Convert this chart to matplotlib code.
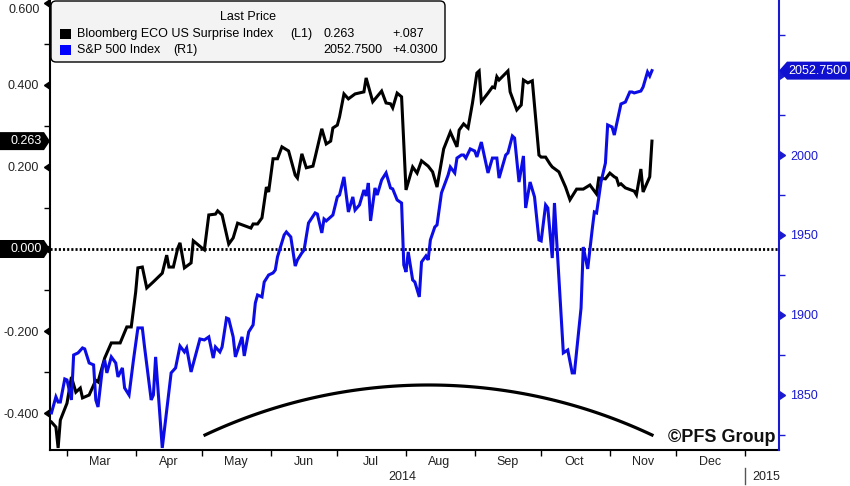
import numpy as np
import pandas as pd
import matplotlib
matplotlib.use('Agg')
import matplotlib.pyplot as plt
import matplotlib.dates as mdates
from matplotlib.patches import Polygon, FancyBboxPatch, Rectangle
from matplotlib.lines import Line2D
from matplotlib.transforms import IdentityTransform

plt.rcParams['font.family'] = ['Liberation Sans', 'DejaVu Sans']

# Bloomberg ECO US Surprise Index (left axis)
eco_dates = ['2014-02-22','2014-02-24','2014-02-25','2014-02-26','2014-03-01','2014-03-03','2014-03-05','2014-03-07','2014-03-08','2014-03-11',
             '2014-03-14','2014-03-15','2014-03-18','2014-03-21','2014-03-25','2014-03-28','2014-03-30','2014-04-01','2014-04-02','2014-04-04',
             '2014-04-06','2014-04-09','2014-04-13','2014-04-15','2014-04-16','2014-04-18','2014-04-20','2014-04-21','2014-04-23','2014-04-26',
             '2014-04-27','2014-05-01','2014-05-02','2014-05-04','2014-05-07','2014-05-08','2014-05-10','2014-05-13','2014-05-15','2014-05-17',
             '2014-05-23','2014-05-24','2014-05-26','2014-05-28','2014-05-30','2014-05-31','2014-06-02','2014-06-04','2014-06-06','2014-06-09',
             '2014-06-12','2014-06-13','2014-06-15','2014-06-17','2014-06-20','2014-06-21','2014-06-24','2014-06-26','2014-06-28','2014-06-29',
             '2014-07-01','2014-07-02','2014-07-04','2014-07-06','2014-07-09','2014-07-13','2014-07-14','2014-07-17','2014-07-21','2014-07-23',
             '2014-07-25','2014-07-26','2014-07-28','2014-07-30','2014-08-01','2014-08-04','2014-08-06','2014-08-08','2014-08-11','2014-08-13',
             '2014-08-15','2014-08-18','2014-08-21','2014-08-24','2014-08-25','2014-08-27','2014-08-29','2014-08-31','2014-09-02','2014-09-03',
             '2014-09-04','2014-09-07','2014-09-09','2014-09-10','2014-09-11','2014-09-12','2014-09-16','2014-09-17','2014-09-20','2014-09-22',
             '2014-09-23','2014-09-25','2014-09-27','2014-09-30','2014-10-01','2014-10-03','2014-10-05','2014-10-06','2014-10-09','2014-10-12',
             '2014-10-14','2014-10-17','2014-10-20','2014-10-23','2014-10-26','2014-10-27','2014-10-30','2014-11-01','2014-11-03','2014-11-04',
             '2014-11-05','2014-11-06','2014-11-08','2014-11-12','2014-11-13','2014-11-15','2014-11-16','2014-11-19','2014-11-20']
eco_vals = [-0.422,-0.434,-0.485,-0.417,-0.376,-0.312,-0.349,-0.339,-0.363,-0.356,
            -0.320,-0.324,-0.266,-0.229,-0.229,-0.190,-0.190,-0.105,-0.046,-0.044,
            -0.095,-0.080,-0.059,-0.015,-0.044,-0.044,0.002,0.015,-0.046,-0.034,
            0.020,0.002,-0.002,0.083,0.085,0.093,0.083,0.012,0.027,0.063,
            0.051,0.061,0.061,0.076,0.151,0.139,0.220,0.220,0.249,0.239,
            0.180,0.173,0.232,0.198,0.202,0.224,0.293,0.256,0.263,0.295,
            0.302,0.322,0.378,0.366,0.378,0.383,0.417,0.359,0.385,0.356,
            0.354,0.344,0.380,0.371,0.144,0.200,0.185,0.215,0.202,0.188,
            0.151,0.244,0.285,0.249,0.290,0.305,0.295,0.356,0.429,0.434,
            0.359,0.380,0.395,0.393,0.420,0.412,0.434,0.383,0.339,0.351,
            0.412,0.405,0.410,0.229,0.224,0.224,0.207,0.200,0.188,0.151,
            0.120,0.146,0.146,0.156,0.134,0.173,0.171,0.185,0.176,0.173,
            0.156,0.159,0.149,0.141,0.132,0.195,0.139,0.176,0.263]

# S&P 500 Index (right axis)
spx_dates = ['2014-02-22','2014-02-24','2014-02-25','2014-02-26','2014-02-28','2014-03-01','2014-03-03','2014-03-04','2014-03-06','2014-03-08',
             '2014-03-09','2014-03-11','2014-03-13','2014-03-14','2014-03-15','2014-03-17','2014-03-18','2014-03-19','2014-03-21','2014-03-23',
             '2014-03-24','2014-03-26','2014-03-27','2014-03-29','2014-03-31','2014-04-02','2014-04-04','2014-04-05','2014-04-08','2014-04-09',
             '2014-04-10','2014-04-13','2014-04-17','2014-04-19','2014-04-21','2014-04-23','2014-04-24','2014-04-26','2014-04-30','2014-05-02',
             '2014-05-04','2014-05-06','2014-05-07','2014-05-09','2014-05-10','2014-05-12','2014-05-13','2014-05-15','2014-05-16','2014-05-19',
             '2014-05-20','2014-05-22','2014-05-24','2014-05-25','2014-05-26','2014-05-28','2014-05-29','2014-05-31','2014-06-02','2014-06-03',
             '2014-06-04','2014-06-07','2014-06-08','2014-06-10','2014-06-12','2014-06-13','2014-06-15','2014-06-16','2014-06-18','2014-06-21',
             '2014-06-22','2014-06-24','2014-06-25','2014-06-26','2014-06-28','2014-06-29','2014-07-01','2014-07-02','2014-07-04','2014-07-06',
             '2014-07-08','2014-07-09','2014-07-11','2014-07-13','2014-07-14','2014-07-15','2014-07-16','2014-07-18','2014-07-19','2014-07-21',
             '2014-07-23','2014-07-25','2014-07-26','2014-07-28','2014-07-30','2014-07-31','2014-08-01','2014-08-02','2014-08-04','2014-08-05',
             '2014-08-07','2014-08-08','2014-08-10','2014-08-11','2014-08-12','2014-08-14','2014-08-15','2014-08-17','2014-08-20','2014-08-21',
             '2014-08-23','2014-08-24','2014-08-26','2014-08-27','2014-08-28','2014-08-30','2014-09-01','2014-09-02','2014-09-04','2014-09-07',
             '2014-09-09','2014-09-11','2014-09-12','2014-09-15','2014-09-16','2014-09-18','2014-09-19','2014-09-21','2014-09-23','2014-09-24',
             '2014-09-26','2014-09-28','2014-09-30','2014-10-01','2014-10-03','2014-10-04','2014-10-06','2014-10-07','2014-10-11','2014-10-13',
             '2014-10-15','2014-10-16','2014-10-19','2014-10-20','2014-10-22','2014-10-24','2014-10-25','2014-10-26','2014-10-28','2014-10-30',
             '2014-10-31','2014-11-02','2014-11-03','2014-11-05','2014-11-06','2014-11-08','2014-11-10','2014-11-11','2014-11-12','2014-11-15',
             '2014-11-16','2014-11-18','2014-11-19','2014-11-20']
spx_vals = [1838.8,1848.8,1845.6,1845.6,1860.0,1859.4,1846.9,1875.0,1876.3,1879.4,
            1878.8,1870.0,1868.8,1846.9,1842.5,1866.9,1871.9,1863.8,1873.8,1870.0,
            1861.3,1866.9,1854.4,1850.0,1871.9,1891.9,1891.9,1880.0,1846.9,1850.0,
            1873.8,1816.9,1863.8,1866.9,1880.6,1876.9,1879.4,1864.4,1885.0,1884.4,
            1886.3,1873.1,1880.0,1876.9,1880.0,1898.1,1897.5,1886.3,1873.8,1886.3,
            1874.4,1889.4,1893.8,1907.5,1912.5,1911.3,1920.6,1925.0,1926.3,1928.1,
            1936.3,1950.0,1951.9,1948.8,1930.6,1934.4,1938.8,1940.6,1957.5,1963.8,
            1963.1,1951.3,1960.0,1958.8,1961.3,1962.5,1973.8,1975.0,1986.3,1964.4,
            1973.8,1965.6,1968.8,1978.1,1974.4,1982.5,1958.8,1979.4,1975.0,1984.4,
            1988.8,1979.4,1978.8,1971.9,1970.0,1931.3,1926.9,1939.4,1921.9,1920.6,
            1911.3,1933.1,1936.9,1934.4,1946.9,1955.0,1956.3,1976.3,1987.5,1992.5,
            1988.8,1998.1,2000.0,2000.0,1998.1,2003.8,2002.5,1998.8,2008.1,1988.8,
            1998.1,1998.1,1985.6,2000.0,2001.3,2011.9,2010.6,1983.1,1999.4,1966.9,
            1983.1,1973.8,1946.9,1946.3,1968.8,1966.9,1935.6,1970.0,1876.3,1878.1,
            1863.8,1863.8,1904.4,1942.5,1928.8,1953.1,1964.4,1963.8,1983.1,1995.0,
            2018.8,2017.5,2012.5,2025.6,2031.9,2033.1,2039.4,2039.4,2038.8,2040.0,
            2042.5,2051.9,2049.4,2052.75]

left_ticks = [-0.4, -0.2, 0.0, 0.2, 0.4, 0.6]
left_minor = [-0.3, -0.1, 0.1, 0.3, 0.5]
right_ticks = [1850, 1900, 1950, 2000, 2050]
right_minor = [1825, 1875, 1925, 1975, 2025, 2075]
right_labels = ['1850', '1900', '1950', '2000', '']

eco_last, eco_chg = '0.263', '+.087'
spx_last, spx_chg = '2052.7500', '+4.0300'

BLUE = '#0c0ce6'
AXBLUE = '#1a1ad0'
W, H = 850, 486
FS = 9

fig = plt.figure(figsize=(W / 100, H / 100), dpi=100)
ax = fig.add_axes([50 / W, 1 - 450 / H, 729 / W, 450 / H])
ax2 = ax.twinx()

ed = pd.to_datetime(eco_dates)
sd = pd.to_datetime(spx_dates)
ax.plot(ed, eco_vals, color='black', lw=2.2, solid_joinstyle='miter')
ax2.plot(sd, spx_vals, color=BLUE, lw=2.2, solid_joinstyle='miter')

ax.set_xlim(pd.Timestamp('2014-02-21 08:00'), pd.Timestamp('2015-01-16 08:00'))
ax.set_ylim(-0.49, 0.607)
ax2.set_ylim(1815.6, 2096.9)

# zero line
ax.axhline(0, color='black', lw=2, dashes=(0.75, 0.75))

for s in ['top', 'right']:
    ax.spines[s].set_visible(False)
for s in ['top', 'left', 'bottom']:
    ax2.spines[s].set_visible(False)
ax.spines['left'].set_linewidth(1.5)
ax.spines['bottom'].set_linewidth(1.5)
ax2.spines['right'].set_color(AXBLUE)
ax2.spines['right'].set_linewidth(1.5)

# left axis ticks (0.000 and 0.600 are drawn as separate texts)
ax.set_yticks(left_ticks)
ax.set_yticklabels(['%.3f' % v if v not in (0.0, 0.6) else '' for v in left_ticks])
ax.set_yticks(left_minor, minor=True)
ax.tick_params(axis='y', which='major', length=0, pad=8, labelsize=FS, colors='#222222')
ax.tick_params(axis='y', which='minor', length=4, width=1, direction='out', color='black')
ax.plot(np.zeros(len(left_ticks)), left_ticks, transform=ax.get_yaxis_transform(),
        ls='none', marker=8, ms=6, color='black', clip_on=False)

# right axis ticks
ax2.set_yticks(right_ticks)
ax2.set_yticklabels(right_labels)
ax2.set_yticks(right_minor, minor=True)
ax2.tick_params(axis='y', which='major', length=0, pad=8, labelsize=FS, labelcolor=AXBLUE)
ax2.tick_params(axis='y', which='minor', length=4, width=1, direction='out', color=AXBLUE)
ax2.plot(np.ones(len(right_ticks)), right_ticks, transform=ax2.get_yaxis_transform(),
         ls='none', marker=9, ms=6, color=AXBLUE, clip_on=False)

# x axis: ticks at month starts, labels mid-month
ax.xaxis.set_major_locator(mdates.MonthLocator())
ax.xaxis.set_major_formatter(plt.NullFormatter())
ax.xaxis.set_minor_locator(mdates.MonthLocator(bymonth=range(3, 13), bymonthday=16))
ax.xaxis.set_minor_formatter(mdates.DateFormatter('%b'))
ax.tick_params(axis='x', which='major', length=4, width=1, direction='out')
ax.tick_params(axis='x', which='minor', length=0, pad=4, labelsize=FS, labelcolor='#222222')

ident = IdentityTransform()


def P(x, y):
    return (x, H - y)


def img_y(axis, val):
    return H - axis.transData.transform((0, val))[1]


fig.text(*P(40, 10), '%.3f' % left_ticks[-1], transform=ident, ha='right', va='center', fontsize=FS, color='#222222')
fig.text(*P(402, 477), '2014', transform=ident, ha='center', va='center', fontsize=FS, color='#222222')
fig.text(*P(752, 477), '2015', transform=ident, ha='left', va='center', fontsize=FS, color='#222222')
fig.add_artist(Line2D([745, 745], [H - 468, H - 484], transform=ident, color='#555555', lw=1))

# value tags
for val, txt in [(float(eco_last), eco_last), (0.0, '0.000')]:
    yc = img_y(ax, val)
    pts = [P(0, yc - 9), P(44, yc - 9), P(50, yc), P(44, yc + 9), P(0, yc + 9)]
    fig.add_artist(Polygon(pts, closed=True, transform=ident, facecolor='black', edgecolor='none'))
    fig.text(*P(42, yc), txt, transform=ident, ha='right', va='center', fontsize=FS, color='white')

yc = img_y(ax2, float(spx_last))
pts = [P(779, yc), P(787, yc - 9), P(850, yc - 9), P(850, yc + 9), P(787, yc + 9)]
fig.add_artist(Polygon(pts, closed=True, transform=ident, facecolor='#1010d0', edgecolor='none'))
fig.text(*P(788, yc), spx_last, transform=ident, ha='left', va='center', fontsize=FS, color='white')

# legend box
box = FancyBboxPatch(P(51, 62), 394, 61, boxstyle='round,pad=0,rounding_size=5', transform=ident,
                     facecolor='#f3f3f3', edgecolor='black', lw=1)
fig.add_artist(box)
fig.text(*P(248, 17), 'Last Price', transform=ident, ha='center', va='center', fontsize=FS)
rows = [('black', 'Bloomberg ECO US Surprise Index', '(L1)', 290, eco_last, eco_chg),
        ('#0000ff', 'S&P 500 Index', '(R1)', 173, spx_last, spx_chg)]
for i, (c, name, tag, tx, last, chg) in enumerate(rows):
    y = 34 + 16 * i
    fig.add_artist(Rectangle(P(60, y + 5), 11, 10, transform=ident, facecolor=c, edgecolor='none'))
    fig.text(*P(77, y), name, transform=ident, ha='left', va='center', fontsize=FS)
    fig.text(*P(tx, y), tag, transform=ident, ha='left', va='center', fontsize=FS)
    fig.text(*P(323, y), last, transform=ident, ha='left', va='center', fontsize=FS)
    fig.text(*P(392, y), chg, transform=ident, ha='left', va='center', fontsize=FS)

# arc annotation
cx, chord, sag = 428.5, 223.5, 50.0
R = (chord ** 2 + sag ** 2) / (2 * sag)
cy = 385 + R
half = np.arcsin(chord / R)
t = np.linspace(-half, half, 100)
fig.add_artist(Line2D(cx + R * np.sin(t), H - (cy - R * np.cos(t)), transform=ident, color='black', lw=2.3))

fig.text(*P(775, 437), '\u00a9PFS Group', transform=ident, ha='right', va='center',
         fontsize=13, fontweight='bold', color='#111111')

fig.savefig('out.png', dpi=100)
